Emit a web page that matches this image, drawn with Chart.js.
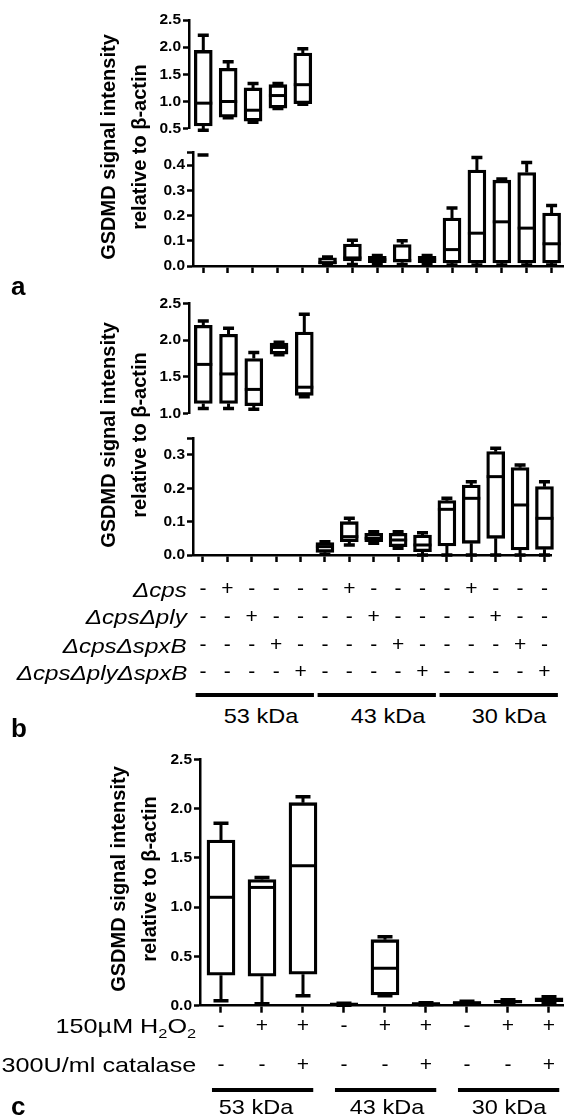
<!DOCTYPE html>
<html>
<head>
<meta charset="utf-8">
<script src="https://cdn.jsdelivr.net/npm/chart.js@4.4.0/dist/chart.umd.min.js"></script>
<style>
  html, body { margin: 0; padding: 0; background: #fff; overflow: hidden; }
  #fig { position: relative; width: 564px; height: 1120px; font-family: "Liberation Sans", Arial, sans-serif; color: #000; }
  canvas { position: absolute; left: 0; }
  .txt { position: absolute; font-size: 21px; line-height: 21px; white-space: nowrap; }
  .rowlbl { text-align: right; transform-origin: right center; transform: scaleX(1.15); }
  .wide { transform: scaleX(1.2); }
  .kda { width: 200px; text-align: center; transform: scaleX(1.12); }
  .letter { position: absolute; left: 11px; font-size: 26px; line-height: 26px; font-weight: bold; }
  .ytitle { position: absolute; width: 260px; height: 62px; font-size: 20px; line-height: 31px; font-weight: bold; text-align: center; transform: rotate(-90deg); white-space: nowrap; }
  sub { font-size: 0.65em; line-height: 0; vertical-align: -0.35em; }
</style>
</head>
<body>
<div id="fig">
  <canvas id="aTop"></canvas>
  <canvas id="aLow"></canvas>
  <canvas id="bTop"></canvas>
  <canvas id="bLow"></canvas>
  <canvas id="cAll"></canvas>

  <div class="ytitle" style="left:-6px;top:116px">GSDMD signal intensity<br>relative to β-actin</div>
  <div class="ytitle" style="left:-6px;top:404px">GSDMD signal intensity<br>relative to β-actin</div>
  <div class="ytitle" style="left:4px;top:848px">GSDMD signal intensity<br>relative to β-actin</div>

  <div class="letter" style="top:273px">a</div>
  <div class="letter" style="top:715px">b</div>
  <div class="letter" style="top:1093px">c</div>

  <div class="txt rowlbl" style="right:377px;top:579px"><i>Δcps</i></div>
  <div class="txt rowlbl" style="right:377px;top:606px"><i>ΔcpsΔply</i></div>
  <div class="txt rowlbl" style="right:377px;top:635px"><i>ΔcpsΔspxB</i></div>
  <div class="txt rowlbl" style="right:377px;top:662px"><i>ΔcpsΔplyΔspxB</i></div>

  <div class="txt kda" style="left:161px;top:705px">53 kDa</div>
  <div class="txt kda" style="left:288px;top:705px">43 kDa</div>
  <div class="txt kda" style="left:409px;top:705px">30 kDa</div>

  <div class="txt rowlbl wide" style="right:368px;top:1015px">150µM H<sub>2</sub>O<sub>2</sub></div>
  <div class="txt rowlbl wide" style="right:368px;top:1054px">300U/ml catalase</div>

  <div class="txt kda" style="left:156px;top:1096px">53 kDa</div>
  <div class="txt kda" style="left:287px;top:1096px">43 kDa</div>
  <div class="txt kda" style="left:409px;top:1096px">30 kDa</div>
</div>

<script>
// lanes 1-5 = 53 kDa, 6-10 = 43 kDa, 11-15 = 30 kDa
const lanes15 = [1, 2, 3, 4, 5, 6, 7, 8, 9, 10, 11, 12, 13, 14, 15];
const lanes9 = [1, 2, 3, 4, 5, 6, 7, 8, 9];

// box stats: [min, q1, median, q3, max]
const aTopLanes = [1, 2, 3, 4, 5];
const aTopStats = [
    [0.47, 0.55, 0.97, 1.94, 2.22],
    [0.70, 0.71, 1.00, 1.61, 1.73],
    [0.62, 0.64, 0.84, 1.25, 1.33],
    [0.87, 0.88, 1.11, 1.31, 1.33],
    [0.95, 0.96, 1.31, 1.89, 1.97]
];
const aLowLanes = [1, 6, 7, 8, 9, 10, 11, 12, 13, 14, 15];
const aLowStats = [
    [0.44, 0.44, 0.44, 0.44, 0.44],
    [0.003, 0.008, 0.013, 0.032, 0.036],
    [0.006, 0.020, 0.032, 0.087, 0.102],
    [0.008, 0.013, 0.025, 0.038, 0.042],
    [0.006, 0.015, 0.022, 0.085, 0.100],
    [0.008, 0.013, 0.025, 0.038, 0.042],
    [0.004, 0.012, 0.065, 0.190, 0.230],
    [0.004, 0.012, 0.130, 0.380, 0.430],
    [0.004, 0.012, 0.175, 0.340, 0.345],
    [0.004, 0.012, 0.150, 0.370, 0.410],
    [0.004, 0.012, 0.088, 0.210, 0.240]
];

const bTopLanes = [1, 2, 3, 4, 5];
const bTopStats = [
    [1.07, 1.14, 1.67, 2.20, 2.26],
    [1.07, 1.14, 1.54, 2.08, 2.16],
    [1.06, 1.11, 1.33, 1.75, 1.83],
    [1.80, 1.81, 1.90, 1.96, 1.97],
    [1.23, 1.25, 1.36, 2.11, 2.35]
];
const bLowLanes = [6, 7, 8, 9, 10, 11, 12, 13, 14, 15];
const bLowStats = [
    [0.002, 0.008, 0.025, 0.037, 0.040],
    [0.030, 0.040, 0.055, 0.100, 0.110],
    [0.035, 0.040, 0.050, 0.065, 0.070],
    [0.020, 0.025, 0.045, 0.065, 0.070],
    [0.000, 0.010, 0.030, 0.060, 0.067],
    [0.000, 0.027, 0.137, 0.163, 0.170],
    [0.000, 0.035, 0.170, 0.210, 0.220],
    [0.000, 0.050, 0.235, 0.310, 0.320],
    [0.000, 0.015, 0.150, 0.262, 0.270],
    [0.000, 0.017, 0.110, 0.205, 0.220]
];

const cStats = [
    [0.05, 0.31, 1.10, 1.68, 1.85],
    [0.02, 0.30, 1.20, 1.28, 1.30],
    [0.10, 0.32, 1.42, 2.06, 2.12],
    [0.005, 0.010, 0.015, 0.020, 0.025],
    [0.10, 0.11, 0.38, 0.67, 0.70],
    [0.010, 0.015, 0.020, 0.025, 0.030],
    [0.015, 0.020, 0.030, 0.040, 0.045],
    [0.020, 0.030, 0.040, 0.055, 0.060],
    [0.030, 0.040, 0.060, 0.080, 0.090]
];

// +/- rows under panel b and c
const rowCps         = ['-', '+', '-', '-', '-', '-', '+', '-', '-', '-', '-', '+', '-', '-', '-'];
const rowCpsPly      = ['-', '-', '+', '-', '-', '-', '-', '+', '-', '-', '-', '-', '+', '-', '-'];
const rowCpsSpxB     = ['-', '-', '-', '+', '-', '-', '-', '-', '+', '-', '-', '-', '-', '+', '-'];
const rowCpsPlySpxB  = ['-', '-', '-', '-', '+', '-', '-', '-', '-', '+', '-', '-', '-', '-', '+'];
const rowH2O2     = ['-', '+', '+', '-', '+', '+', '-', '+', '+'];
const rowCatalase = ['-', '-', '+', '-', '-', '+', '-', '-', '+'];

// y ticks
const ticksATop = [0.5, 1.0, 1.5, 2.0, 2.5];
const ticksALow = [0, 0.1, 0.2, 0.3, 0.4, 0.45];
const ticksBTop = [1.0, 1.5, 2.0, 2.5];
const ticksBLow = [0, 0.1, 0.2, 0.3, 0.35];
const ticksC = [0, 0.5, 1.0, 1.5, 2.0, 2.5];

const W = 564;

// whiskers + caps before the boxes, medians after
const boxPlot = {
    id: 'boxPlot',
    beforeDatasetsDraw(chart, args, o) {
        const ctx = chart.ctx;
        ctx.save();
        ctx.strokeStyle = '#000';
        eachBox(chart, (el, py) => {
            ctx.lineWidth = 3;
            ctx.beginPath();
            ctx.moveTo(el.x, py[3]); ctx.lineTo(el.x, py[4]);
            ctx.moveTo(el.x, py[1]); ctx.lineTo(el.x, py[0]);
            ctx.stroke();
            ctx.lineWidth = 3.5;
            ctx.beginPath();
            ctx.moveTo(el.x - o.cap / 2, py[4]); ctx.lineTo(el.x + o.cap / 2, py[4]);
            ctx.moveTo(el.x - o.cap / 2, py[0]); ctx.lineTo(el.x + o.cap / 2, py[0]);
            ctx.stroke();
        });
        ctx.restore();
    },
    afterDatasetsDraw(chart) {
        const ctx = chart.ctx;
        ctx.save();
        ctx.strokeStyle = '#000';
        ctx.lineWidth = 3;
        eachBox(chart, (el, py, s) => {
            if (s[1] === s[3]) return;
            ctx.beginPath();
            ctx.moveTo(el.x - el.width / 2, py[2]);
            ctx.lineTo(el.x + el.width / 2, py[2]);
            ctx.stroke();
        });
        ctx.restore();
    }
};

function eachBox(chart, fn) {
    const meta = chart.getDatasetMeta(0);
    const y = chart.scales.y;
    meta.data.forEach((el, i) => {
        const s = chart.data.datasets[0].data[i].s;
        fn(el, s.map(v => y.getPixelForValue(v)), s);
    });
}

// thick lines under each kDa group
const groupLines = {
    id: 'groupLines',
    afterDraw(chart, args, o) {
        if (!o.groups) return;
        const x = chart.scales.x, ctx = chart.ctx;
        ctx.save();
        ctx.strokeStyle = '#000';
        ctx.lineWidth = 4;
        o.groups.forEach(g => {
            ctx.beginPath();
            ctx.moveTo(x.getPixelForValue(g[0] - o.before), o.y);
            ctx.lineTo(x.getPixelForValue(g[1] + o.after), o.y);
            ctx.stroke();
        });
        ctx.restore();
    }
};

function makeChart(id, cfg) {
    const cv = document.getElementById(id);
    cv.width = W;
    cv.height = cfg.height;
    cv.style.top = cfg.top + 'px';
    const xH = cfg.xShow ? cfg.xH : 0;
    return new Chart(cv, {
        type: 'bar',
        data: {
            datasets: [{
                data: cfg.lanes.map((x, i) => ({ x: x, box: [cfg.stats[i][1], cfg.stats[i][3]], s: cfg.stats[i] })),
                parsing: { xAxisKey: 'x', yAxisKey: 'box' },
                backgroundColor: '#fff',
                borderColor: '#000',
                borderWidth: 3.3,
                borderSkipped: false,
                barThickness: cfg.barW,
                clip: false
            }]
        },
        options: {
            responsive: false,
            animation: false,
            devicePixelRatio: 1,
            layout: {
                autoPadding: false,
                padding: { top: cfg.areaTop - cfg.top, bottom: cfg.top + cfg.height - cfg.areaBottom - xH, left: 0, right: 0 }
            },
            plugins: {
                legend: { display: false },
                tooltip: { enabled: false },
                boxPlot: { cap: cfg.cap },
                groupLines: cfg.groups || {}
            },
            scales: {
                x: {
                    type: 'linear',
                    display: cfg.xShow,
                    offset: false,
                    min: cfg.xMin,
                    max: cfg.xMax,
                    afterBuildTicks: s => { s.ticks = cfg.xTicks.map(v => ({ value: v })); },
                    afterFit: s => { s.height = xH; },
                    grid: { offset: false, drawOnChartArea: false, drawTicks: true, tickLength: 7, tickWidth: 2.5, tickColor: '#000' },
                    border: { display: true, color: '#000', width: 2.5 },
                    ticks: {
                        autoSkip: false,
                        maxRotation: 0,
                        padding: cfg.xPad || 0,
                        color: '#000',
                        font: { family: 'Liberation Sans', size: 21, lineHeight: (cfg.rowH || 21) + 'px' },
                        callback: v => cfg.xLabel ? cfg.xLabel(v) : ''
                    }
                },
                y: {
                    min: cfg.yMin,
                    max: cfg.yMax,
                    afterBuildTicks: s => { s.ticks = cfg.yTicks.map(v => ({ value: v })); },
                    afterFit: s => { s.width = cfg.axisX; },
                    grid: { drawOnChartArea: false, tickLength: 6, tickWidth: 2.5, tickColor: '#000' },
                    border: { display: true, color: '#000', width: 2.5 },
                    ticks: {
                        padding: 2,
                        color: '#000',
                        font: { family: 'Liberation Sans', size: 15.5, weight: 'bold' },
                        callback: v => (v === cfg.yCap ? '' : v.toFixed(1))
                    }
                }
            }
        },
        plugins: [boxPlot, groupLines]
    });
}

// panel a
makeChart('aTop', {
    top: 0, height: 140, areaTop: 20, areaBottom: 130.7, axisX: 189,
    xMin: 0.426, xMax: 15.498, xShow: false, xTicks: lanes15,
    lanes: aTopLanes, stats: aTopStats, yMin: 0.5, yMax: 2.5, yTicks: ticksATop,
    barW: 18, cap: 11
});
makeChart('aLow', {
    top: 140, height: 140, areaTop: 152.4, areaBottom: 266, axisX: 193,
    xMin: 0.598, xMax: 15.498, xShow: true, xH: 14, xTicks: lanes15,
    lanes: aLowLanes, stats: aLowStats, yMin: 0, yMax: 0.45, yTicks: ticksALow, yCap: 0.45,
    barW: 18, cap: 11
});

// panel b
makeChart('bTop', {
    top: 285, height: 140, areaTop: 303.3, areaBottom: 418.3, axisX: 189,
    xMin: 0.434, xMax: 15.285, xShow: false, xTicks: lanes15,
    lanes: bTopLanes, stats: bTopStats, yMin: 1.0, yMax: 2.5, yTicks: ticksBTop,
    barW: 18, cap: 11
});
makeChart('bLow', {
    top: 425, height: 275, areaTop: 438.3, areaBottom: 555, axisX: 193,
    xMin: 0.592, xMax: 15.285, xShow: true, xH: 145, xTicks: lanes15,
    xPad: 13.4, rowH: 27.8,
    xLabel: v => [rowCps[v - 1], rowCpsPly[v - 1], rowCpsSpxB[v - 1], rowCpsPlySpxB[v - 1]],
    lanes: bLowLanes, stats: bLowStats, yMin: 0, yMax: 0.35, yTicks: ticksBLow, yCap: 0.35,
    barW: 18, cap: 11,
    groups: { groups: [[1, 5], [6, 10], [11, 15]], before: 0.3, after: 0.55, y: 270 }
});

// panel c
makeChart('cAll', {
    top: 745, height: 355, areaTop: 759.3, areaBottom: 1005.7, axisX: 200,
    xMin: 0.488, xMax: 9.366, xShow: true, xH: 94.3, xTicks: lanes9,
    xPad: -6, rowH: 39,
    xLabel: v => [rowH2O2[v - 1], rowCatalase[v - 1]],
    lanes: lanes9, stats: cStats, yMin: 0, yMax: 2.5, yTicks: ticksC,
    barW: 28, cap: 15,
    groups: { groups: [[1, 3], [4, 6], [7, 9]], before: 0.22, after: 0.25, y: 345 }
});
</script>
</body>
</html>
